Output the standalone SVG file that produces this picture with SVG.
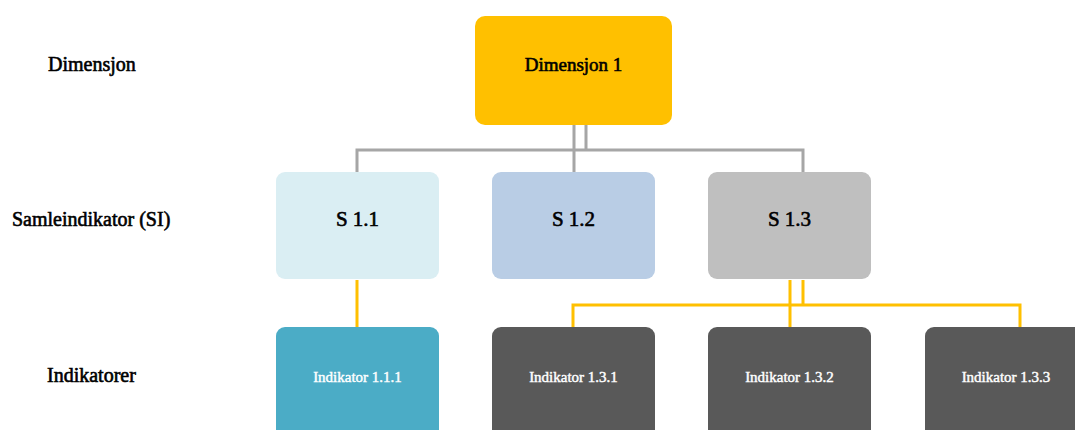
<svg xmlns="http://www.w3.org/2000/svg" width="1075" height="430" viewBox="0 0 1075 430">
  <style>
    text { font-family: "Liberation Serif", "Times New Roman", serif; }
    .lbl { font-size: 20px; fill: #000; stroke: #000; stroke-width: 0.6; }
    .dim { font-size: 19px; fill: #000; stroke: #000; stroke-width: 0.6; text-anchor: middle; }
    .si { font-size: 21px; fill: #000; stroke: #000; stroke-width: 0.6; text-anchor: middle; }
    .ind { font-size: 15px; fill: #fff; stroke: #fff; stroke-width: 0.45; text-anchor: middle; }
    .gray { stroke: #A6A6A6; stroke-width: 3; fill: none; }
    .gold { stroke: #FFC000; stroke-width: 3; fill: none; }
  </style>

  <!-- row labels -->
  <g id="row-labels">
    <text class="lbl" x="48" y="71">Dimensjon</text>
    <text class="lbl" x="12" y="226">Samleindikator (SI)</text>
    <text class="lbl" x="47" y="382">Indikatorer</text>
  </g>

  <!-- connectors -->
  <g id="connectors">
    <path class="gray" d="M574 125 V172 M586 125 V150 M357 172 V150 H803 V172"/>
    <path class="gold" d="M357 280 V327 M790 280 V327 M803 280 V305 M573 327 V305 H1020 V327"/>
  </g>

  <g id="dimensjon-1">
    <rect x="475" y="16" width="197" height="109" rx="10" fill="#FFC000"/>
    <text class="dim" x="573.5" y="71">Dimensjon 1</text>
  </g>

  <g id="s-1-1">
    <rect x="276" y="172" width="163" height="107" rx="9" fill="#DAEEF3"/>
    <text class="si" x="357.5" y="226">S 1.1</text>
  </g>
  <g id="s-1-2">
    <rect x="492" y="172" width="163" height="107" rx="9" fill="#B9CDE5"/>
    <text class="si" x="573.5" y="226">S 1.2</text>
  </g>
  <g id="s-1-3">
    <rect x="708" y="172" width="163" height="107" rx="9" fill="#BFBFBF"/>
    <text class="si" x="789.5" y="226">S 1.3</text>
  </g>

  <g id="indikator-1-1-1">
    <rect x="276" y="327" width="163" height="115" rx="9" fill="#4BACC6"/>
    <text class="ind" x="357.5" y="382">Indikator 1.1.1</text>
  </g>
  <g id="indikator-1-3-1">
    <rect x="492" y="327" width="163" height="115" rx="9" fill="#595959"/>
    <text class="ind" x="573.5" y="382">Indikator 1.3.1</text>
  </g>
  <g id="indikator-1-3-2">
    <rect x="708" y="327" width="163" height="115" rx="9" fill="#595959"/>
    <text class="ind" x="789.5" y="382">Indikator 1.3.2</text>
  </g>
  <g id="indikator-1-3-3">
    <rect x="925" y="327" width="163" height="115" rx="9" fill="#595959"/>
    <text class="ind" x="1006" y="382">Indikator 1.3.3</text>
  </g>
</svg>
